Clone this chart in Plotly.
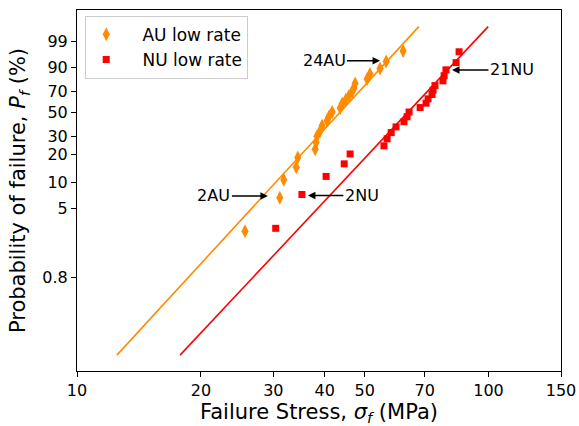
import numpy as np
import plotly.graph_objects as go

# ---- data ----
au_stress = [25.6, 31.1, 31.8, 34.1, 34.4, 37.9, 38.1, 38.3, 39.0, 39.4,
             40.5, 41.0, 41.7, 43.6, 44.1, 45.0, 45.8, 46.6, 47.1, 47.4,
             50.7, 51.5, 54.5, 56.4, 62.0]
au_pf = [2.76, 6.69, 10.63, 14.57, 18.50, 22.44, 26.38, 30.31, 34.25, 38.19,
         42.13, 46.06, 50.00, 53.94, 57.87, 61.81, 65.75, 69.69, 73.62, 77.56,
         81.50, 85.43, 89.37, 93.31, 97.24]

nu_stress = [30.4, 35.2, 40.3, 44.6, 46.1, 55.7, 56.7, 58.0, 59.6, 62.3,
             63.4, 64.1, 68.2, 70.5, 71.3, 72.9, 73.3, 74.1, 77.5, 78.0,
             78.8, 83.4, 84.8]
nu_pf = [2.99, 7.26, 11.54, 15.81, 20.09, 24.36, 28.63, 32.91, 37.18, 41.45,
         45.73, 50.00, 54.27, 58.55, 62.82, 67.09, 71.37, 75.64, 79.91, 84.19,
         88.46, 92.74, 97.01]

au_fit_stress = [12.5, 67.7]
nu_fit_stress = [17.8, 99.8]
fit_pf = [0.1, 99.9]

y_tick_labels = ["0.8", "5", "10", "20", "30", "50", "70", "90", "99"]
x_tick_vals = [10, 20, 30, 40, 50, 70, 100, 150]

# annotations: (label, stress at arrow tip, Pf at arrow tip, text offset px)
ann_labels = ["2AU", "2NU", "24AU", "21NU"]
ann_stress = [29.1, 36.4, 54.5, 81.5]
ann_pf = [7.0, 7.07, 93.7, 88.4]
ann_dx = [-54, 54, -56, 60]


def weib(p_percent):
    p = np.asarray(p_percent, dtype=float) / 100.0
    return np.log(-np.log(1.0 - p))


ORANGE = "#FF8C00"
RED = "#FF0000"
FONT = "DejaVu Sans"

fig = go.Figure()
fig.add_trace(go.Scatter(x=au_fit_stress, y=weib(fit_pf), mode="lines",
                         line=dict(color=ORANGE, width=1.6), showlegend=False,
                         hoverinfo="skip"))
fig.add_trace(go.Scatter(x=nu_fit_stress, y=weib(fit_pf), mode="lines",
                         line=dict(color=RED, width=1.6), showlegend=False,
                         hoverinfo="skip"))
fig.add_trace(go.Scatter(x=au_stress, y=weib(au_pf), mode="markers",
                         name="\u00a0\u00a0\u00a0AU low rate",
                         marker=dict(symbol="diamond-tall", size=10, color=ORANGE,
                                     line=dict(width=0))))
fig.add_trace(go.Scatter(x=nu_stress, y=weib(nu_pf), mode="markers",
                         name="\u00a0\u00a0\u00a0NU low rate",
                         marker=dict(symbol="square", size=7, color=RED,
                                     line=dict(width=0))))

for lab, s, p, dx in zip(ann_labels, ann_stress, ann_pf, ann_dx):
    fig.add_annotation(x=np.log10(s), y=float(weib([p])[0]), text=lab,
                       showarrow=True, ax=dx, ay=0, arrowhead=2, arrowsize=1,
                       arrowwidth=1.5, arrowcolor="black",
                       font=dict(family=FONT, size=16, color="black"))

fig.update_layout(
    width=579, height=426,
    margin=dict(l=77, r=18, t=10, b=55),
    paper_bgcolor="white", plot_bgcolor="white",
    font=dict(family=FONT, size=16, color="black"),
    legend=dict(x=0.017, y=0.984, xanchor="left", yanchor="top",
                bordercolor="#cccccc", borderwidth=1, bgcolor="white",
                font=dict(family=FONT, size=17), itemwidth=30,
                tracegroupgap=0),
)
fig.update_xaxes(type="log", range=[1, np.log10(150)],
                 tickvals=x_tick_vals, ticktext=[str(v) for v in x_tick_vals],
                 ticks="outside", ticklen=5, tickwidth=1, tickcolor="black",
                 showline=True, linecolor="black", linewidth=1, mirror=True,
                 showgrid=False, zeroline=False, automargin=False,
                 tickfont=dict(family=FONT, size=16),
                 title=dict(text="Failure Stress, <i>σ</i><sub><i>f</i></sub> (MPa)",
                            font=dict(family=FONT, size=21), standoff=4))
fig.update_yaxes(range=[-7.335, 2.38],
                 tickvals=list(weib([float(t) for t in y_tick_labels])),
                 ticktext=y_tick_labels,
                 ticks="outside", ticklen=5, tickwidth=1, tickcolor="black",
                 showline=True, linecolor="black", linewidth=1, mirror=True,
                 showgrid=False, zeroline=False, automargin=False,
                 tickfont=dict(family=FONT, size=16),
                 title=dict(text="Probability of failure, <i>P</i><sub><i>f</i></sub> (%)",
                            font=dict(family=FONT, size=21), standoff=10))

fig.write_html("out.html",
               config={"displayModeBar": False, "responsive": False},
               post_script="document.body.style.margin='0';"
                           "document.body.style.overflow='hidden';")
